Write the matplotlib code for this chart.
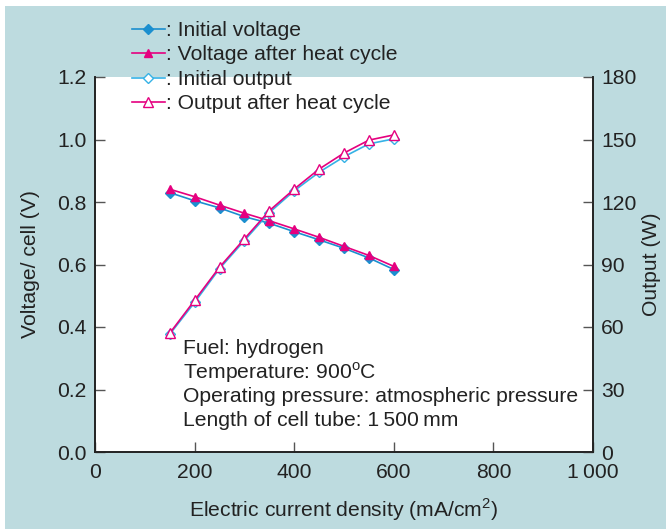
import matplotlib
matplotlib.use("Agg")
import matplotlib.pyplot as plt
from matplotlib.patches import Rectangle
from matplotlib.lines import Line2D

plt.rcParams['font.family'] = ['Liberation Sans', 'DejaVu Sans']
plt.rcParams['mathtext.fontset'] = 'custom'
plt.rcParams['mathtext.rm'] = 'Liberation Sans'

# data
current = [150, 200, 250, 300, 350, 400, 450, 500, 550, 600]
volt_init = [0.830, 0.804, 0.781, 0.753, 0.732, 0.705, 0.679, 0.652, 0.621, 0.584]
volt_heat = [0.841, 0.817, 0.790, 0.764, 0.740, 0.714, 0.687, 0.658, 0.629, 0.594]
out_init = [56.5, 71.8, 88.0, 101.5, 114.9, 125.4, 134.3, 141.7, 147.9, 150.3]
out_heat = [57.0, 72.8, 88.7, 102.3, 115.8, 126.2, 135.8, 143.5, 149.7, 152.2]

x_ticks = [0, 200, 400, 600, 800, 1000]
x_labels = ['0', '200', '400', '600', '800', '1\u2009000']
v_ticks = [0.0, 0.2, 0.4, 0.6, 0.8, 1.0, 1.2]
w_ticks = [0, 30, 60, 90, 120, 150, 180]

notes = ['Fuel: hydrogen',
         'Temperature: 900$^{\\rm o}$C',
         'Operating pressure: atmospheric pressure',
         'Length of cell tube: 1\u2009500\u2009mm']

bg = '#bddbdf'
blue = '#1b8fcf'
cyan = '#35b2e6'
pink = '#e5007f'
dark = '#222222'
fs = 15.2

fig = plt.figure(figsize=(6.66, 5.29), dpi=100)
fig.patches.append(Rectangle((5 / 666, 0), 1, 1 - 6 / 529, transform=fig.transFigure,
                             facecolor=bg, edgecolor='none', zorder=-10))

ax = fig.add_axes([95 / 666, 1 - 452 / 529, (593 - 95) / 666, (452 - 77) / 529])
ax.set_facecolor('white')
ax2 = ax.twinx()

ax.plot(current, volt_init, color=blue, lw=1.2, marker='D', ms=5, mfc=blue, mec=blue)
ax.plot(current, volt_heat, color=pink, lw=1.2, marker='^', ms=6, mfc=pink, mec=pink)
ax2.plot(current, out_init, color=cyan, lw=1.2, marker='D', ms=5, mfc='white', mec=cyan, mew=1)
ax2.plot(current, out_heat, color=pink, lw=1.2, marker='^', ms=6.5, mfc='white', mec=pink, mew=1)

ax.set_xlim(0, 1000)
ax.set_ylim(0, 1.2)
ax2.set_ylim(0, 180)
ax.set_xticks(x_ticks)
ax.set_xticklabels(x_labels)
ax.set_yticks(v_ticks)
ax.set_yticklabels(['%.1f' % v for v in v_ticks])
ax2.set_yticks(w_ticks)

for a in (ax, ax2):
    a.spines['top'].set_visible(False)
    for s in a.spines.values():
        s.set_color(dark)
        s.set_linewidth(1.2)
    a.tick_params(direction='in', length=7, width=1, color='#555555',
                  labelsize=fs, labelcolor=dark, pad=6)
ax.tick_params(axis='x', pad=8)

ax.set_xlabel('Electric current density (mA/cm$^2$)', fontsize=fs, color=dark, labelpad=10)
ax.set_ylabel('Voltage/ cell (V)', fontsize=fs, color=dark, labelpad=12)
ax2.set_ylabel('Output (W)', fontsize=fs, color=dark, labelpad=4)

for i, t in enumerate(notes):
    ax.text(183 / 666, 1 - (349 + 24 * i) / 529, t, transform=fig.transFigure,
            fontsize=fs, color=dark, va='center', ha='left')

handles = [
    Line2D([], [], color=blue, lw=1.2, marker='D', ms=5, mfc=blue, mec=blue),
    Line2D([], [], color=pink, lw=1.2, marker='^', ms=6, mfc=pink, mec=pink),
    Line2D([], [], color=cyan, lw=1.2, marker='D', ms=5, mfc='white', mec=cyan),
    Line2D([], [], color=pink, lw=1.2, marker='^', ms=6.5, mfc='white', mec=pink),
]
labels = [': Initial voltage', ': Voltage after heat cycle',
          ': Initial output', ': Output after heat cycle']
leg = fig.legend(handles, labels, loc='upper left', bbox_to_anchor=(132 / 666, 1 - 21 / 529),
                 frameon=False, fontsize=fs, handlelength=1.55, handletextpad=0.05,
                 labelspacing=0.26, borderaxespad=0, borderpad=0)
for t in leg.get_texts():
    t.set_color(dark)

fig.savefig('out.png', dpi=100)
